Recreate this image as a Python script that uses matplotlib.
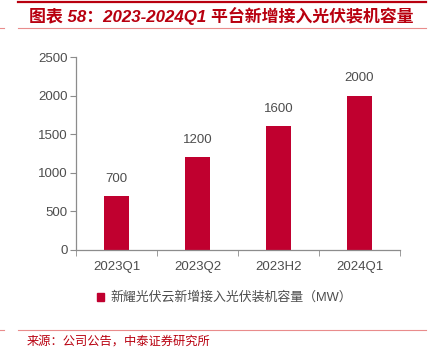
import matplotlib.pyplot as plt
from matplotlib.lines import Line2D
from matplotlib.patches import Patch

plt.rcParams['font.family'] = ['Liberation Sans', 'Noto Sans CJK SC']

periods = ['2023Q1', '2023Q2', '2023H2', '2024Q1']
capacity = [700, 1200, 1600, 2000]
yticks = [0, 500, 1000, 1500, 2000, 2500]

title = '图表 58：2023-2024Q1 平台新增接入光伏装机容量'
series_name = '新耀光伏云新增接入光伏装机容量（MW）'
source = '来源：公司公告，中泰证券研究所'

bar_color = '#C0002F'
dark_red = '#B8000F'
pink = '#E98C8C'
axis_gray = '#8C8C8C'
text_gray = '#4D4D4D'

W, H = 430, 349
fig = plt.figure(figsize=(W / 100, H / 100), dpi=100)

def fx(px):
    return px / W

def fy(py):
    return 1 - py / H

ax = fig.add_axes([fx(76), fy(250), fx(400) - fx(76), fy(57) - fy(250)])
x = list(range(len(periods)))
bars = ax.bar(x, capacity, width=0.31, color=bar_color)
for rect, v in zip(bars, capacity):
    ax.annotate(str(v), (rect.get_x() + rect.get_width() / 2, v),
                xytext=(0, 12.5), textcoords='offset points',
                ha='center', va='center', fontsize=9.5, color=text_gray)

ax.set_xlim(-0.5, len(periods) - 0.5)
ax.set_ylim(0, 2500)
ax.set_yticks(yticks)
ax.set_xticks(x)
ax.set_xticklabels(periods)
ax.set_xticks([i - 0.5 for i in range(len(periods) + 1)], minor=True)
ax.tick_params(axis='x', which='major', length=0, pad=8, labelsize=9.5, labelcolor=text_gray)
ax.tick_params(axis='x', which='minor', length=4, color=axis_gray, direction='out')
ax.tick_params(axis='y', length=4, color=axis_gray, pad=2, labelsize=9.5, labelcolor=text_gray)
for side in ['top', 'right']:
    ax.spines[side].set_visible(False)
for side in ['left', 'bottom']:
    ax.spines[side].set_color(axis_gray)
    ax.spines[side].set_linewidth(0.9)

fig.legend(handles=[Patch(color=bar_color)], labels=[series_name],
           loc='center left', bbox_to_anchor=(fx(85), fy(298)),
           frameon=False, handlelength=0.6, handleheight=0.6, handletextpad=0.5,
           prop={'size': 9.3}, labelcolor=text_gray)

# header and footer rules
fig.add_artist(Line2D([fx(18), fx(426)], [fy(2), fy(2)], color=dark_red, lw=1.6))
fig.add_artist(Line2D([fx(18), fx(426)], [fy(28), fy(28)], color=pink, lw=0.8))
fig.add_artist(Line2D([0, fx(4)], [fy(28), fy(28)], color=pink, lw=0.8))
fig.add_artist(Line2D([fx(18), fx(426)], [fy(330), fy(330)], color=pink, lw=0.8))
fig.add_artist(Line2D([0, fx(4)], [fy(330), fy(330)], color=pink, lw=0.8))

fig.text(fx(29), fy(16), title, fontsize=12.2, fontweight='bold', fontstyle='italic',
         color=dark_red, ha='left', va='center')
fig.text(fx(27), fy(342), source, fontsize=8.8, color=dark_red, ha='left', va='center')

fig.savefig('out.png', dpi=100)
